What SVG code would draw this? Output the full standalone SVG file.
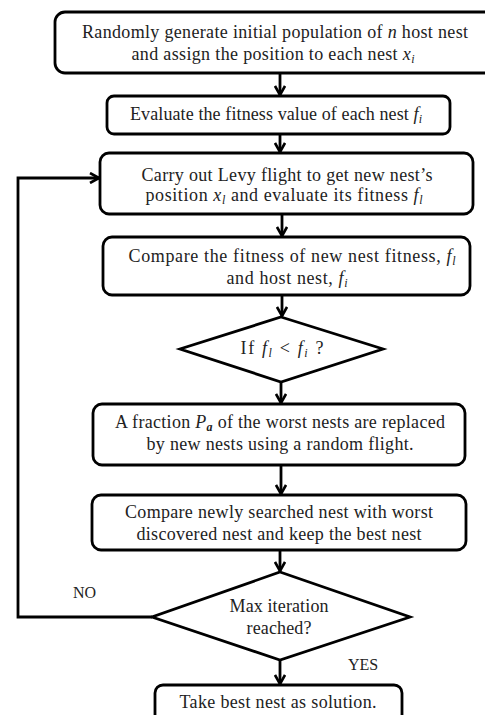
<svg xmlns="http://www.w3.org/2000/svg" width="485" height="715" viewBox="0 0 485 715">
<defs>
<style>
.box{fill:#fff;stroke:#000;stroke-width:2.8}
.t{font-family:"Liberation Serif","Times New Roman",serif;font-size:18px;fill:#222;text-anchor:middle}
.lbl{font-family:"Liberation Serif","Times New Roman",serif;font-size:16px;fill:#222}
.i{font-style:italic}
.s{font-style:italic;font-size:12px}
.c{fill:none;stroke:#000;stroke-width:2.8}
</style>
<marker id="ah" viewBox="0 0 12 12" refX="11" refY="6" markerWidth="12" markerHeight="12" markerUnits="userSpaceOnUse" orient="auto">
<path d="M2,1 L11,6 L2,11" fill="none" stroke="#000" stroke-width="2.6"/>
</marker>
</defs>
<rect width="485" height="715" fill="#fff"/>
<g id="connectors">
<line class="c" x1="280" y1="74" x2="280" y2="95" marker-end="url(#ah)"/>
<line class="c" x1="280" y1="135" x2="280" y2="152" marker-end="url(#ah)"/>
<line class="c" x1="282" y1="214" x2="282" y2="236" marker-end="url(#ah)"/>
<line class="c" x1="282" y1="295" x2="282" y2="316" marker-end="url(#ah)"/>
<line class="c" x1="281" y1="382" x2="281" y2="403" marker-end="url(#ah)"/>
<line class="c" x1="281" y1="465" x2="281" y2="494" marker-end="url(#ah)"/>
<line class="c" x1="280" y1="550" x2="280" y2="571" marker-end="url(#ah)"/>
<line class="c" x1="280" y1="660" x2="280" y2="684" marker-end="url(#ah)"/>
<polyline class="c" points="152,617 18,617 18,178 99,178" marker-end="url(#ah)"/>
<text class="lbl" x="73" y="598">NO</text>
<text class="lbl" x="348" y="670">YES</text>
</g>
<g id="n1">
<rect class="box" x="55" y="12" width="440" height="61" rx="10"/>
<text class="t" x="275" y="38" textLength="386">Randomly generate initial population of <tspan class="i">n</tspan> host nest</text>
<text class="t" x="273" y="60" textLength="283">and assign the position to each nest <tspan class="i">x</tspan><tspan class="s" dy="3">i</tspan></text>
</g>
<g id="n2">
<rect class="box" x="107" y="96" width="343" height="38" rx="7"/>
<text class="t" x="276" y="120" textLength="292">Evaluate the fitness value of each nest <tspan class="i">f</tspan><tspan class="s" dy="3">i</tspan></text>
</g>
<g id="n3">
<rect class="box" x="100" y="153" width="373" height="61" rx="9"/>
<text class="t" x="287" y="181" textLength="291">Carry out Levy flight to get new nest’s</text>
<text class="t" x="284" y="201" textLength="277">position <tspan class="i">x</tspan><tspan class="s" dy="3">l</tspan><tspan dy="-3">  and evaluate its fitness  </tspan><tspan class="i">f</tspan><tspan class="s" dy="3">l</tspan></text>
</g>
<g id="n4">
<rect class="box" x="103" y="237" width="367" height="58" rx="9"/>
<text class="t" x="292" y="262" textLength="327">Compare the fitness of new nest fitness, <tspan class="i">f</tspan><tspan class="s" dy="3">l</tspan></text>
<text class="t" x="287" y="284" textLength="121">and host nest, <tspan class="i">f</tspan><tspan class="s" dy="3">i</tspan></text>
</g>
<g id="n5">
<polygon class="box" points="281,317 383,349 281,382 180,349"/>
<text class="t" x="282" y="354" textLength="83">If  <tspan class="i">f</tspan><tspan class="s" dy="3">l</tspan><tspan dy="-3"> &lt; </tspan><tspan class="i">f</tspan><tspan class="s" dy="3">i</tspan><tspan dy="-3"> ?</tspan></text>
</g>
<g id="n6">
<rect class="box" x="93" y="404" width="372" height="61" rx="9"/>
<text class="t" x="280" y="428" textLength="330">A fraction <tspan class="i">P</tspan><tspan class="s" font-weight="bold" dy="3">a</tspan><tspan dy="-3"> of the worst nests are replaced</tspan></text>
<text class="t" x="280" y="450" textLength="267">by new nests using a random flight.</text>
</g>
<g id="n7">
<rect class="box" x="92" y="495" width="374" height="55" rx="9"/>
<text class="t" x="279" y="518" textLength="308">Compare newly searched nest with worst</text>
<text class="t" x="279" y="540" textLength="285">discovered nest and keep the best nest</text>
</g>
<g id="n8">
<polygon class="box" points="280,572 410,617 280,660 152,617"/>
<text class="t" x="279" y="612" textLength="99">Max iteration</text>
<text class="t" x="279" y="634" textLength="65">reached?</text>
</g>
<g id="n9">
<rect class="box" x="155" y="685" width="247" height="40" rx="8"/>
<text class="t" x="278" y="708" textLength="197">Take best nest as solution.</text>
</g>
</svg>
